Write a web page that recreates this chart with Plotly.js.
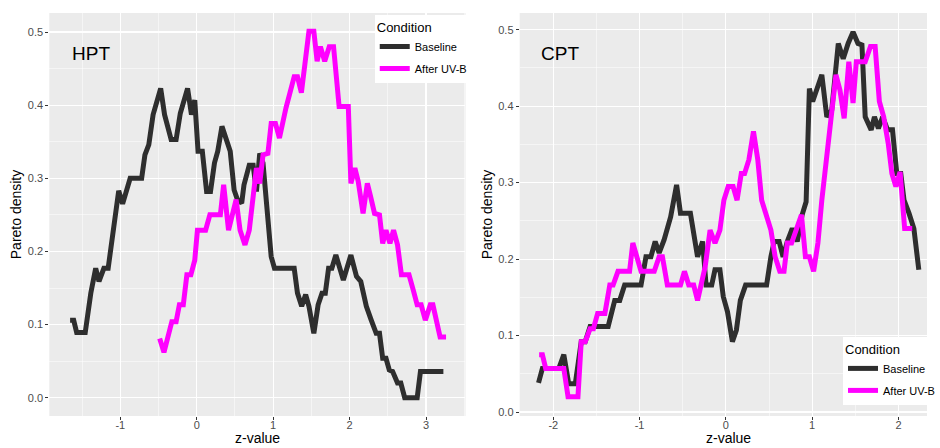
<!DOCTYPE html>
<html><head><meta charset="utf-8">
<script src="https://cdn.plot.ly/plotly-3.0.1.min.js"></script>
<style>body{margin:0;padding:0;background:#fff;} #chart{width:940px;height:448px;}</style>
</head><body><div id="chart"></div>
<script>
// ---------- HPT panel ----------
const hptBaselineZ = [-1.657,-1.61,-1.571,-1.459,-1.386,-1.322,-1.279,-1.215,-1.159,-1.107,-1.021,-0.970,-0.871,-0.721,-0.678,-0.627,-0.571,-0.472,-0.421,-0.335,-0.270,-0.215,-0.120,-0.069,-0.026,0.017,0.073,0.129,0.180,0.232,0.275,0.330,0.438,0.489,0.532,0.588,0.618,0.687,0.738,0.781,0.824,0.867,0.918,0.974,1.017,1.275,1.318,1.373,1.425,1.468,1.532,1.588,1.639,1.682,1.725,1.768,1.820,1.918,2.017,2.090,2.146,2.219,2.283,2.348,2.391,2.433,2.476,2.519,2.562,2.627,2.670,2.721,2.884,2.927,3.227];
const hptBaselineD = [0.106,0.106,0.089,0.089,0.143,0.177,0.159,0.177,0.177,0.216,0.283,0.265,0.300,0.300,0.332,0.346,0.387,0.423,0.387,0.353,0.353,0.389,0.423,0.387,0.407,0.337,0.337,0.282,0.282,0.321,0.337,0.371,0.337,0.284,0.271,0.266,0.291,0.318,0.318,0.282,0.334,0.321,0.252,0.193,0.177,0.177,0.143,0.125,0.141,0.125,0.088,0.127,0.143,0.143,0.177,0.177,0.195,0.161,0.195,0.166,0.159,0.125,0.106,0.088,0.088,0.054,0.054,0.038,0.036,0.020,0.020,0.0,0.0,0.036,0.036];
const hptUvbZ = [-0.485,-0.429,-0.326,-0.270,-0.227,-0.176,-0.129,-0.077,-0.026,0.009,0.116,0.172,0.309,0.352,0.416,0.459,0.515,0.567,0.631,0.687,0.738,0.781,0.824,0.867,0.931,0.974,1.030,1.082,1.167,1.275,1.318,1.369,1.468,1.532,1.575,1.618,1.674,1.734,1.790,1.863,1.983,2.017,2.069,2.112,2.176,2.232,2.275,2.326,2.391,2.433,2.476,2.528,2.575,2.627,2.678,2.777,2.833,2.884,2.936,2.991,3.056,3.090,3.184,3.262];
const hptUvbD = [0.081,0.062,0.104,0.104,0.127,0.127,0.168,0.168,0.188,0.229,0.229,0.250,0.250,0.291,0.229,0.250,0.271,0.229,0.209,0.229,0.280,0.314,0.293,0.332,0.334,0.375,0.375,0.355,0.396,0.439,0.439,0.417,0.501,0.501,0.460,0.480,0.460,0.480,0.480,0.398,0.398,0.293,0.314,0.296,0.252,0.293,0.275,0.252,0.250,0.211,0.229,0.211,0.229,0.209,0.168,0.168,0.147,0.127,0.127,0.106,0.127,0.127,0.083,0.083];

// ---------- CPT panel ----------
const cptBaselineZ = [-2.171,-2.126,-1.935,-1.878,-1.821,-1.745,-1.676,-1.630,-1.573,-1.364,-1.288,-1.230,-1.173,-0.983,-0.926,-0.869,-0.819,-0.773,-0.716,-0.640,-0.571,-0.526,-0.411,-0.373,-0.328,-0.270,-0.229,-0.164,-0.126,-0.069,-0.030,0.019,0.076,0.122,0.168,0.229,0.472,0.522,0.560,0.617,0.663,0.712,0.770,0.827,0.884,0.930,0.968,1.006,1.055,1.112,1.170,1.227,1.303,1.360,1.417,1.474,1.531,1.577,1.615,1.684,1.722,1.768,1.817,1.874,1.931,1.981,2.027,2.065,2.122,2.179,2.236];
const cptBaselineD = [0.038,0.057,0.057,0.075,0.037,0.037,0.092,0.092,0.112,0.112,0.146,0.146,0.166,0.166,0.203,0.203,0.223,0.208,0.225,0.255,0.297,0.260,0.260,0.234,0.203,0.223,0.166,0.166,0.186,0.186,0.151,0.131,0.092,0.107,0.146,0.166,0.166,0.203,0.223,0.223,0.203,0.223,0.240,0.223,0.258,0.275,0.423,0.406,0.423,0.441,0.386,0.395,0.482,0.462,0.482,0.497,0.482,0.480,0.386,0.369,0.386,0.371,0.386,0.369,0.369,0.312,0.312,0.277,0.260,0.240,0.186];
const cptUvbZ = [-2.164,-2.126,-2.088,-1.878,-1.829,-1.714,-1.676,-1.630,-1.573,-1.535,-1.486,-1.402,-1.345,-1.307,-1.250,-1.116,-1.078,-0.983,-0.830,-0.773,-0.735,-0.678,-0.526,-0.480,-0.430,-0.373,-0.328,-0.290,-0.240,-0.183,-0.126,-0.069,-0.023,0.027,0.084,0.130,0.179,0.217,0.267,0.320,0.370,0.415,0.465,0.522,0.571,0.625,0.674,0.712,0.762,0.808,0.876,0.922,0.968,1.017,1.067,1.112,1.170,1.227,1.276,1.322,1.371,1.425,1.474,1.512,1.615,1.676,1.730,1.779,1.829,1.882,1.924,1.970,2.019,2.072,2.160];
const cptUvbD = [0.075,0.075,0.057,0.057,0.020,0.020,0.092,0.092,0.109,0.109,0.129,0.129,0.166,0.166,0.184,0.184,0.221,0.184,0.184,0.203,0.203,0.166,0.166,0.184,0.166,0.166,0.146,0.168,0.190,0.238,0.221,0.238,0.277,0.295,0.295,0.277,0.312,0.312,0.330,0.367,0.330,0.277,0.260,0.238,0.203,0.184,0.184,0.221,0.221,0.238,0.258,0.203,0.203,0.184,0.221,0.277,0.336,0.391,0.441,0.421,0.384,0.458,0.404,0.458,0.458,0.478,0.478,0.406,0.386,0.351,0.312,0.295,0.314,0.240,0.240];

// ---------- labels ----------
const seriesNames = ['Baseline', 'After UV-B'];
const panelLabels = ['HPT', 'CPT'];
const hptXTickVals = [-1, 0, 1, 2, 3];
const hptXTickText = ['-1', '0', '1', '2', '3'];
const cptXTickVals = [-2, -1, 0, 1, 2];
const cptXTickText = ['-2', '-1', '0', '1', '2'];
const yTickVals = [0, 0.1, 0.2, 0.3, 0.4, 0.5];
const yTickText = ['0.0', '0.1', '0.2', '0.3', '0.4', '0.5'];
const xTitle = 'z-value';
const yTitle = 'Pareto density';
const legendTitle = 'Condition';

const BASE_COLOR = '#2e2e2e';
const UVB_COLOR = '#ff00ff';
const FONT = 'Liberation Sans, Arial, sans-serif';

function mk(x, y, i, xa, ya, lg) {
  return {x: x, y: y, name: seriesNames[i], mode: 'lines',
    line: {color: i === 0 ? BASE_COLOR : UVB_COLOR, width: 5},
    xaxis: xa, yaxis: ya, legend: lg, legendgroup: lg + '_' + i};
}
const traces = [
  mk(hptBaselineZ, hptBaselineD, 0, 'x', 'y', 'legend'),
  mk(hptUvbZ, hptUvbD, 1, 'x', 'y', 'legend'),
  mk(cptBaselineZ, cptBaselineD, 0, 'x2', 'y2', 'legend2'),
  mk(cptUvbZ, cptUvbD, 1, 'x2', 'y2', 'legend2')
];

const W = 940, H = 448;
const yDom = [1 - 416 / H, 1 - 13 / H];

function xAxis(domain, range, vals, text, anchor) {
  return {
    domain: domain, range: range, anchor: anchor, tickmode: 'array', tickvals: vals, ticktext: text,
    showgrid: true, gridcolor: '#ffffff', gridwidth: 1.1, zeroline: false, showline: false,
    ticks: 'outside', ticklen: 3, tickwidth: 1, tickcolor: '#333333', ticklabelstandoff: -4,
    tickfont: {family: FONT, size: 11, color: '#4d4d4d'},
    minor: {showgrid: true, gridcolor: '#ffffff', gridwidth: 0.5, dtick: 0.5, tick0: 0, ticks: ''},
    automargin: false, fixedrange: true
  };
}
function yAxis(anchor, range) {
  return {
    domain: yDom, range: range, anchor: anchor, tickmode: 'array', tickvals: yTickVals, ticktext: yTickText,
    showgrid: true, gridcolor: '#ffffff', gridwidth: 1.1, zeroline: false, showline: false,
    ticks: 'outside', ticklen: 3, tickwidth: 1, tickcolor: '#333333',
    tickfont: {family: FONT, size: 11, color: '#4d4d4d'},
    minor: {showgrid: true, gridcolor: '#ffffff', gridwidth: 0.5, dtick: 0.05, tick0: 0, ticks: ''},
    title: {text: yTitle, font: {family: FONT, size: 14, color: '#000'}, standoff: 2},
    automargin: false, fixedrange: true
  };
}

const legendCommon = {
  bgcolor: '#ffffff', borderwidth: 0, xanchor: 'left', yanchor: 'top',
  font: {family: FONT, size: 11, color: '#000'},
  title: {text: legendTitle, font: {family: FONT, size: 13, color: '#000'}},
  traceorder: 'grouped', tracegroupgap: 3, itemwidth: 30
};

const layout = {
  width: W, height: H,
  margin: {l: 0, r: 0, t: 0, b: 0, pad: 0},
  paper_bgcolor: '#ffffff', plot_bgcolor: '#ebebeb',
  font: {family: FONT},
  showlegend: true,
  xaxis: xAxis([50 / W, 472 / W], [-1.929, 3.516], hptXTickVals, hptXTickText, 'y'),
  yaxis: yAxis('x', [-0.025, 0.526]),
  xaxis2: xAxis([527 / W, 1], [-2.389, 2.331], cptXTickVals, cptXTickText, 'y2'),
  yaxis2: yAxis('x2', [-0.0052, 0.5218]),
  legend: Object.assign({}, legendCommon, {x: 380 / W, y: 1 - 15 / H}),
  legend2: Object.assign({}, legendCommon, {x: 855 / W, y: 1 - 337 / H}),
  annotations: [
    {xref: 'x', yref: 'y', x: -1.66, y: 0.471, text: panelLabels[0], showarrow: false, xanchor: 'left', yanchor: 'middle', font: {family: FONT, size: 19, color: '#000'}},
    {xref: 'x2', yref: 'y2', x: -2.163, y: 0.469, text: panelLabels[1], showarrow: false, xanchor: 'left', yanchor: 'middle', font: {family: FONT, size: 19, color: '#000'}},
    {xref: 'paper', yref: 'paper', x: 261 / W, y: 0, text: xTitle, showarrow: false, xanchor: 'center', yanchor: 'bottom', font: {family: FONT, size: 14, color: '#000'}},
    {xref: 'paper', yref: 'paper', x: 739 / W, y: 0, text: xTitle, showarrow: false, xanchor: 'center', yanchor: 'bottom', font: {family: FONT, size: 14, color: '#000'}}
  ]
};

Plotly.newPlot('chart', traces, layout, {displayModeBar: false, staticPlot: true});
</script>
</body></html>
